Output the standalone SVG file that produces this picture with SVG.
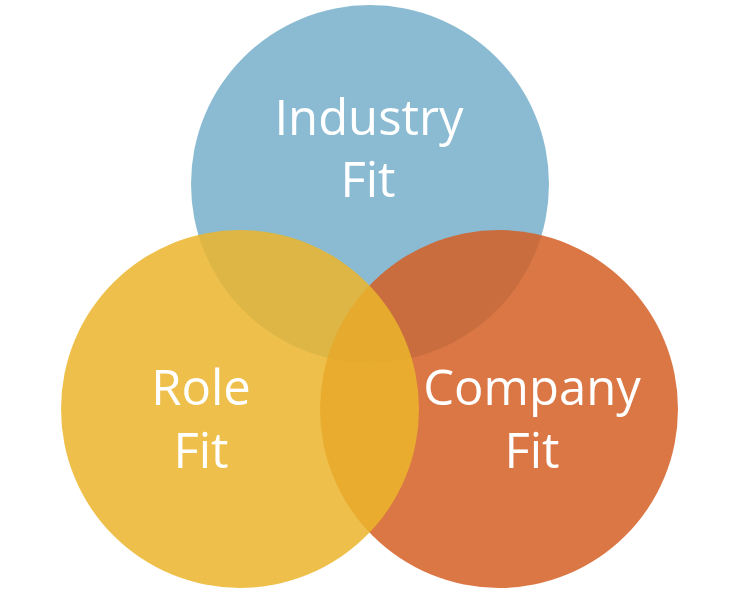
<svg xmlns="http://www.w3.org/2000/svg" width="741" height="597" viewBox="0 0 741 597">
<style>
.c{fill-opacity:0.85}
.t{font-family:"Open Sans","Noto Sans",sans-serif;font-size:49px;fill:#ffffff;text-anchor:middle}
</style>
<rect width="741" height="597" fill="#ffffff"/>
<g id="industry">
<circle class="c" cx="370" cy="184" r="179" fill="#76AFCB"/>
</g>
<g id="company">
<circle class="c" cx="499" cy="409" r="179" fill="#D45F25"/>
</g>
<g id="role">
<circle class="c" cx="240" cy="409" r="179" fill="#EBB52B"/>
</g>
<g id="labels">
<text class="t" x="369" y="135">Industry</text>
<text class="t" x="368" y="197">Fit</text>
<text class="t" x="201" y="405">Role</text>
<text class="t" x="201" y="468">Fit</text>
<text class="t" x="532" y="405">Company</text>
<text class="t" x="532" y="468">Fit</text>
</g>
<g id="connectors"></g>
</svg>
